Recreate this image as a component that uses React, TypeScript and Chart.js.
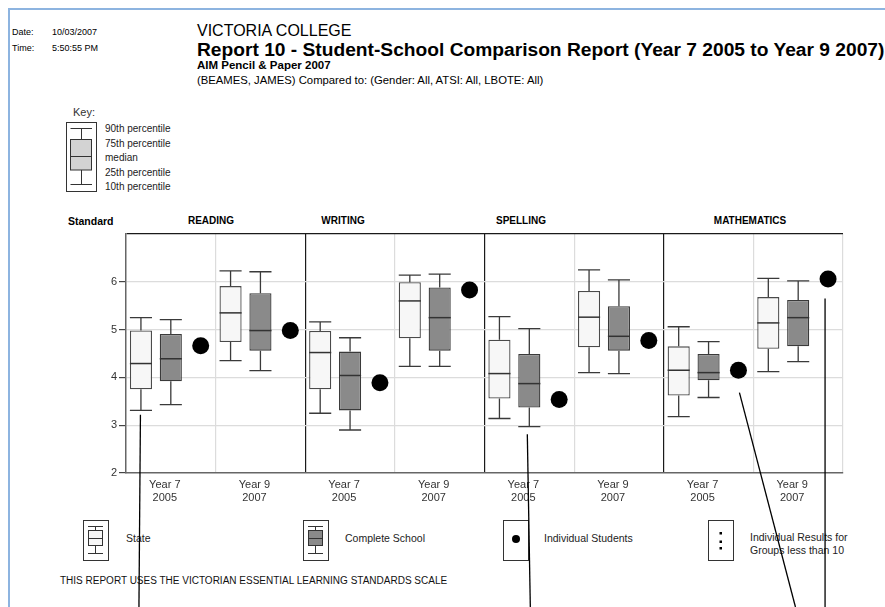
import React, { useEffect, useRef } from "react";
import { Chart, registerables } from "chart.js";

Chart.register(...registerables);

// ---------- DATA ----------
const testAreas = ["READING", "WRITING", "SPELLING", "MATHEMATICS"];
const yearLevels = ["Year 7", "Year 9"];
const testYears = ["2005", "2007"];
const yTickValues = [2, 3, 4, 5, 6, 7];

// State distribution (order: Reading Y7, Reading Y9, Writing Y7, Writing Y9, Spelling Y7, Spelling Y9, Maths Y7, Maths Y9)
const stateP10 = [3.31, 4.35, 3.25, 4.23, 3.14, 4.10, 3.18, 4.12];
const stateQ1 = [3.75, 4.74, 3.75, 4.82, 3.56, 4.63, 3.62, 4.60];
const stateMedian = [4.29, 5.35, 4.52, 5.60, 4.08, 5.26, 4.15, 5.14];
const stateQ3 = [4.98, 5.91, 4.97, 5.99, 4.79, 5.81, 4.65, 5.68];
const stateP90 = [5.25, 6.23, 5.16, 6.14, 5.27, 6.25, 5.06, 6.07];

// Complete School distribution
const schoolP10 = [3.43, 4.14, 2.90, 4.23, 2.97, 4.08, 3.58, 4.33];
const schoolQ1 = [3.92, 4.56, 3.31, 4.56, 3.37, 4.56, 3.94, 4.65];
const schoolMedian = [4.39, 4.98, 4.04, 5.25, 3.87, 4.86, 4.10, 5.25];
const schoolQ3 = [4.91, 5.76, 4.54, 5.88, 4.49, 5.49, 4.49, 5.62];
const schoolP90 = [5.21, 6.21, 4.83, 6.16, 5.02, 6.04, 4.75, 6.02];

// Individual student (BEAMES, JAMES)
const studentScores = [4.66, 4.98, 3.89, 5.83, 3.54, 4.77, 4.15, 6.06];

// Leader lines drawn over the report (category index, slot, start value, x shifts)
const leaderLines = [
  { cat: 0, slot: 0, from: 3.22, dx0: -0.5, dx1: -2 },
  { cat: 4, slot: 1, from: 2.81, dx0: -2, dx1: 1 },
  { cat: 6, slot: 2, from: 3.68, dx0: 1, dx1: 57 },
  { cat: 7, slot: 2, from: 5.65, dx0: -3, dx1: -3 },
];

const FONT = '"Liberation Sans", Arial, Helvetica, sans-serif';

const categoryLabels: string[][] = [];
testAreas.forEach(() => {
  yearLevels.forEach((y, i) => categoryLabels.push([y, testYears[i]]));
});

const boxPlugin = {
  id: "boxWhiskers",
  afterDatasetsDraw(chart: any) {
    const ctx = chart.ctx;
    const y = chart.scales.y;
    const groups = [
      { meta: chart.getDatasetMeta(0), p10: stateP10, med: stateMedian, q1: stateQ1, q3: stateQ3, p90: stateP90 },
      { meta: chart.getDatasetMeta(1), p10: schoolP10, med: schoolMedian, q1: schoolQ1, q3: schoolQ3, p90: schoolP90 },
    ];
    ctx.save();
    groups.forEach((g) => {
      g.meta.data.forEach((el: any, i: number) => {
        const x = el.x;
        const hw = el.width / 2;
        const yP10 = y.getPixelForValue(g.p10[i]);
        const yQ1 = y.getPixelForValue(g.q1[i]);
        const yMed = y.getPixelForValue(g.med[i]);
        const yQ3 = y.getPixelForValue(g.q3[i]);
        const yP90 = y.getPixelForValue(g.p90[i]);
        ctx.strokeStyle = "#3a3a3a";
        ctx.lineWidth = 1.3;
        ctx.beginPath();
        ctx.moveTo(x, yP90);
        ctx.lineTo(x, yQ3);
        ctx.moveTo(x, yQ1);
        ctx.lineTo(x, yP10);
        ctx.moveTo(x - hw, yP90);
        ctx.lineTo(x + hw, yP90);
        ctx.moveTo(x - hw, yP10);
        ctx.lineTo(x + hw, yP10);
        ctx.stroke();
        ctx.strokeStyle = "#333";
        ctx.lineWidth = 1.5;
        ctx.beginPath();
        ctx.moveTo(x - hw, yMed);
        ctx.lineTo(x + hw, yMed);
        ctx.stroke();
      });
    });
    const dots = chart.getDatasetMeta(2);
    ctx.fillStyle = "#000";
    dots.data.forEach((el: any, i: number) => {
      ctx.beginPath();
      ctx.arc(el.x, y.getPixelForValue(studentScores[i]), 8.5, 0, Math.PI * 2);
      ctx.fill();
    });
    ctx.restore();
  },
  afterDraw(chart: any) {
    const ctx = chart.ctx;
    const y = chart.scales.y;
    ctx.save();
    ctx.strokeStyle = "#000";
    ctx.lineWidth = 1.3;
    leaderLines.forEach((l) => {
      const el = chart.getDatasetMeta(l.slot).data[l.cat];
      const x0 = el.x + l.dx0;
      const y0 = y.getPixelForValue(l.from);
      ctx.beginPath();
      ctx.moveTo(x0, y0);
      ctx.lineTo(el.x + l.dx1, chart.height);
      ctx.stroke();
    });
    ctx.restore();
  },
};

function Txt(props: {
  x: number;
  y: number;
  size: number;
  bold?: boolean;
  center?: boolean;
  color?: string;
  children: React.ReactNode;
}) {
  const lh = Math.round(props.size * 1.2);
  return (
    <div
      style={{
        position: "absolute",
        left: props.x,
        top: props.y - lh / 2,
        fontSize: props.size,
        lineHeight: lh + "px",
        fontWeight: props.bold ? "bold" : "normal",
        whiteSpace: "nowrap",
        color: props.color || "#000",
        transform: props.center ? "translateX(-50%)" : undefined,
      }}
    >
      {props.children}
    </div>
  );
}

function LegendBox(props: { left: number; fill: string }) {
  return (
    <svg style={{ position: "absolute", left: props.left, top: 520 }} width={26} height={41}>
      <rect x={0.5} y={0.5} width={25} height={40} fill="#fff" stroke="#333" strokeWidth={1} />
      <line x1={12.5} y1={6} x2={12.5} y2={33} stroke="#333" strokeWidth={1} />
      <line x1={5} y1={6.5} x2={20} y2={6.5} stroke="#333" strokeWidth={1} />
      <line x1={5} y1={33.5} x2={20} y2={33.5} stroke="#333" strokeWidth={1} />
      <rect x={5.5} y={10.5} width={14} height={15} fill={props.fill} stroke="#333" strokeWidth={1} />
      <line x1={5} y1={18.5} x2={20} y2={18.5} stroke="#333" strokeWidth={1} />
    </svg>
  );
}

export default function App() {
  const canvasRef = useRef<HTMLCanvasElement | null>(null);

  useEffect(() => {
    if (!canvasRef.current) return;
    const chart = new Chart(canvasRef.current, {
      type: "bar",
      data: {
        labels: categoryLabels,
        datasets: [
          {
            label: "State",
            data: stateQ1.map((q, i) => [q, stateQ3[i]]) as any,
            backgroundColor: "#f7f7f7",
            borderColor: "#4a4a4a",
            borderWidth: 1.3,
            borderSkipped: false,
            barPercentage: 0.74,
            categoryPercentage: 1,
          },
          {
            label: "Complete School",
            data: schoolQ1.map((q, i) => [q, schoolQ3[i]]) as any,
            backgroundColor: "#8a8a8a",
            borderColor: "#3a3a3a",
            borderWidth: 1.3,
            borderSkipped: false,
            barPercentage: 0.74,
            categoryPercentage: 1,
          },
          {
            label: "Individual Students",
            data: studentScores.map((v) => [v, v]) as any,
            backgroundColor: "rgba(0,0,0,0)",
            borderWidth: 0,
            barPercentage: 0.74,
            categoryPercentage: 1,
          },
        ],
      },
      options: {
        responsive: false,
        animation: false,
        devicePixelRatio: 1,
        layout: { padding: { left: 86, top: 234, right: 42, bottom: 94 } },
        plugins: { legend: { display: false }, tooltip: { enabled: false } },
        scales: {
          x: {
            type: "category",
            offset: true,
            grid: {
              offset: true,
              drawTicks: false,
              color: (c: any) =>
                c.index === 0 ? "rgba(0,0,0,0)" : c.index % 2 === 0 ? "#1a1a1a" : "#dcdcdc",
              lineWidth: 1.2,
            },
            border: { display: true, color: "#666", width: 1.5 },
            ticks: {
              autoSkip: false,
              maxRotation: 0,
              padding: 6,
              labelOffset: -6,
              color: "#333",
              font: { family: FONT, size: 11, lineHeight: 1.15 },
            },
            afterFit: (s: any) => {
              s.height = 40;
            },
          },
          y: {
            min: 2,
            max: 7,
            afterBuildTicks: (s: any) => {
              s.ticks = yTickValues.map((v) => ({ value: v }));
            },
            ticks: {
              stepSize: 1,
              padding: 2,
              color: "#333",
              font: { family: FONT, size: 11 },
              callback: (v: any) => (v === 7 ? "" : String(v)),
            },
            grid: {
              color: (c: any) =>
                c.tick && c.tick.value === 7 ? "#1a1a1a" : c.tick && c.tick.value === 2 ? "rgba(0,0,0,0)" : "#dcdcdc",
              tickColor: (c: any) => (c.tick && c.tick.value === 7 ? "rgba(0,0,0,0)" : "#444"),
              tickLength: 7,
              lineWidth: 1.2,
            },
            border: { display: true, color: "#666", width: 1.5 },
            afterFit: (s: any) => {
              s.width = 40;
            },
          },
        },
      },
      plugins: [boxPlugin],
    });
    return () => chart.destroy();
  }, []);

  return (
    <div
      style={{
        position: "fixed",
        left: 0,
        top: 0,
        width: 885,
        height: 607,
        overflow: "hidden",
        background: "#fff",
        fontFamily: FONT,
      }}
    >
      {/* page frame */}
      <div
        style={{
          position: "absolute",
          left: 8,
          top: 8,
          width: 900,
          height: 700,
          borderTop: "2px solid #8db4e0",
          borderLeft: "2px solid #8db4e0",
        }}
      />
      {/* header */}
      <Txt x={12} y={32} size={9}>Date:</Txt>
      <Txt x={52} y={32} size={9}>10/03/2007</Txt>
      <Txt x={12} y={48} size={9}>Time:</Txt>
      <Txt x={52} y={48} size={9}>5:50:55 PM</Txt>
      <Txt x={197} y={30} size={16}>VICTORIA COLLEGE</Txt>
      <Txt x={197} y={49} size={19.2} bold>
        Report 10 - Student-School Comparison Report (Year 7 2005 to Year 9 2007)
      </Txt>
      <Txt x={197} y={65} size={11.5} bold>AIM Pencil &amp; Paper 2007</Txt>
      <Txt x={197} y={80} size={11.3}>
        (BEAMES, JAMES) Compared to: (Gender: All, ATSI: All, LBOTE: All)
      </Txt>

      {/* key */}
      <Txt x={73} y={112} size={11} color="#333">Key:</Txt>
      <svg style={{ position: "absolute", left: 66, top: 122 }} width={31} height={71}>
        <rect x={0.5} y={0.5} width={30} height={69} fill="#fff" stroke="#333" strokeWidth={1} />
        <line x1={15.5} y1={6.5} x2={15.5} y2={62.5} stroke="#333" strokeWidth={1} />
        <line x1={4.5} y1={6.5} x2={26} y2={6.5} stroke="#333" strokeWidth={1} />
        <line x1={4.5} y1={62.5} x2={26} y2={62.5} stroke="#333" strokeWidth={1} />
        <rect x={4.5} y={17.5} width={21} height={30.5} fill="#d3d3d3" stroke="#333" strokeWidth={1} />
        <line x1={4.5} y1={34.5} x2={25.5} y2={34.5} stroke="#333" strokeWidth={1} />
      </svg>
      <Txt x={105} y={129} size={10} color="#222">90th percentile</Txt>
      <Txt x={105} y={143.5} size={10} color="#222">75th percentile</Txt>
      <Txt x={105} y={158} size={10} color="#222">median</Txt>
      <Txt x={105} y={172.5} size={10} color="#222">25th percentile</Txt>
      <Txt x={105} y={187} size={10} color="#222">10th percentile</Txt>

      {/* section headers */}
      <Txt x={68} y={221} size={10.5} bold>Standard</Txt>
      <Txt x={211} y={221} size={10} bold center>{testAreas[0]}</Txt>
      <Txt x={343} y={221} size={10} bold center>{testAreas[1]}</Txt>
      <Txt x={521} y={221} size={10} bold center>{testAreas[2]}</Txt>
      <Txt x={750} y={221} size={10} bold center>{testAreas[3]}</Txt>

      {/* bottom legend */}
      <LegendBox left={83} fill="#f7f7f7" />
      <Txt x={126} y={538} size={10.5} color="#222">State</Txt>
      <LegendBox left={303} fill="#8a8a8a" />
      <Txt x={345} y={538} size={10.5} color="#222">Complete School</Txt>
      <svg style={{ position: "absolute", left: 503, top: 520 }} width={26} height={41}>
        <rect x={0.5} y={0.5} width={25} height={40} fill="#fff" stroke="#333" strokeWidth={1} />
        <circle cx={13} cy={19} r={4} fill="#000" />
      </svg>
      <Txt x={544} y={538} size={10.5} color="#222">Individual Students</Txt>
      <svg style={{ position: "absolute", left: 708, top: 520 }} width={26} height={41}>
        <rect x={0.5} y={0.5} width={25} height={40} fill="#fff" stroke="#333" strokeWidth={1} />
        <rect x={11.5} y={12} width={2.5} height={2.5} fill="#000" />
        <rect x={11.5} y={20.5} width={2.5} height={2.5} fill="#000" />
        <rect x={11.5} y={27} width={2.5} height={2.5} fill="#000" />
      </svg>
      <Txt x={750} y={537} size={10.5} color="#222">Individual Results for</Txt>
      <Txt x={750} y={550} size={10.5} color="#222">Groups less than 10</Txt>

      <Txt x={60} y={581} size={10} color="#111">
        THIS REPORT USES THE VICTORIAN ESSENTIAL LEARNING STANDARDS SCALE
      </Txt>

      <canvas
        ref={canvasRef}
        width={885}
        height={607}
        style={{ position: "absolute", left: 0, top: 0, width: 885, height: 607 }}
      />
    </div>
  );
}
